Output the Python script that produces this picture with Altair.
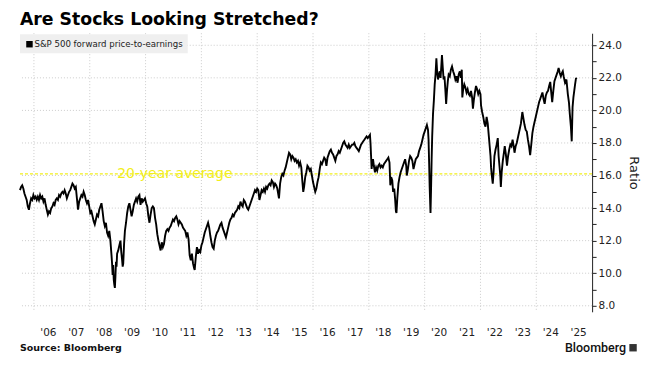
import altair as alt
import pandas as pd

# ---- data (decimal year, forward P/E) ----
years = [
2005.50,2005.54,2005.58,2005.62,2005.66,2005.70,2005.74,2005.78,2005.82,2005.86,2005.90,2005.94,2005.98,
2006.02,2006.06,2006.10,2006.14,2006.18,2006.22,2006.26,2006.30,2006.34,2006.38,2006.42,2006.46,2006.50,
2006.54,2006.58,2006.62,2006.66,2006.70,2006.74,2006.78,2006.82,2006.86,2006.90,2006.94,2006.98,
2007.02,2007.06,2007.10,2007.14,2007.18,2007.22,2007.26,2007.30,2007.34,2007.38,2007.42,2007.46,2007.50,
2007.54,2007.58,2007.62,2007.66,2007.70,2007.74,2007.78,2007.82,2007.86,2007.90,2007.94,2007.98,
2008.02,2008.06,2008.10,2008.14,2008.18,2008.22,2008.26,2008.30,2008.34,2008.38,2008.42,2008.46,2008.50,
2008.54,2008.58,2008.62,2008.66,2008.70,2008.74,2008.78,2008.80,2008.82,2008.84,2008.86,2008.88,2008.90,
2008.92,2008.94,2008.96,2008.98,
2009.02,2009.06,2009.10,2009.13,2009.16,2009.18,2009.20,2009.23,2009.26,2009.30,2009.34,2009.38,2009.42,
2009.46,2009.50,2009.54,2009.58,2009.62,2009.66,2009.70,2009.74,2009.78,2009.82,2009.86,2009.90,2009.94,2009.98,
2010.02,2010.06,2010.10,2010.14,2010.18,2010.22,2010.26,2010.30,2010.34,2010.38,2010.42,2010.46,2010.50,
2010.54,2010.58,2010.62,2010.66,2010.70,2010.74,2010.78,2010.82,2010.86,2010.90,2010.94,2010.98,
2011.02,2011.06,2011.10,2011.14,2011.18,2011.22,2011.26,2011.30,2011.34,2011.38,2011.42,2011.46,2011.50,
2011.54,2011.58,2011.62,2011.66,2011.70,2011.74,2011.76,2011.80,2011.84,2011.88,2011.92,2011.96,
2012.00,2012.04,2012.08,2012.12,2012.16,2012.20,2012.24,2012.28,2012.32,2012.36,2012.40,2012.44,2012.48,
2012.52,2012.56,2012.60,2012.64,2012.68,2012.72,2012.76,2012.80,2012.84,2012.88,2012.92,2012.96,
2013.00,2013.04,2013.08,2013.12,2013.16,2013.20,2013.24,2013.28,2013.32,2013.36,2013.40,2013.44,2013.48,
2013.52,2013.56,2013.60,2013.64,2013.68,2013.72,2013.76,2013.80,2013.84,2013.88,2013.92,2013.96,
2014.00,2014.04,2014.08,2014.12,2014.16,2014.20,2014.24,2014.28,2014.32,2014.36,2014.40,2014.44,2014.48,
2014.52,2014.56,2014.60,2014.64,2014.68,2014.72,2014.76,2014.78,2014.82,2014.86,2014.90,2014.94,2014.98,
2015.02,2015.06,2015.10,2015.14,2015.18,2015.22,2015.26,2015.30,2015.34,2015.38,2015.42,2015.46,2015.50,
2015.54,2015.58,2015.62,2015.65,2015.68,2015.72,2015.76,2015.80,2015.84,2015.88,2015.92,2015.96,
2016.00,2016.04,2016.08,2016.12,2016.16,2016.20,2016.24,2016.28,2016.32,2016.36,2016.40,2016.44,2016.48,
2016.52,2016.56,2016.60,2016.64,2016.68,2016.72,2016.76,2016.80,2016.84,2016.88,2016.92,2016.96,
2017.00,2017.04,2017.08,2017.12,2017.16,2017.20,2017.24,2017.28,2017.32,2017.36,2017.40,2017.44,2017.48,
2017.52,2017.56,2017.60,2017.64,2017.68,2017.72,2017.76,2017.80,2017.84,2017.88,2017.92,2017.96,
2018.00,2018.04,2018.06,2018.08,2018.10,2018.12,2018.15,2018.18,2018.22,2018.26,2018.30,2018.34,2018.38,
2018.42,2018.46,2018.50,2018.54,2018.58,2018.62,2018.66,2018.70,2018.74,2018.77,2018.80,2018.84,2018.87,
2018.91,2018.94,2018.97,2018.99,
2019.02,2019.06,2019.10,2019.14,2019.18,2019.22,2019.26,2019.30,2019.34,2019.36,2019.40,2019.44,2019.48,
2019.52,2019.56,2019.60,2019.64,2019.68,2019.72,2019.76,2019.80,2019.84,2019.88,2019.92,2019.96,
2020.00,2020.04,2020.08,2020.12,2020.14,2020.16,2020.18,2020.20,2020.21,2020.23,2020.25,2020.27,2020.30,
2020.33,2020.36,2020.39,2020.42,2020.45,2020.48,2020.51,2020.54,2020.57,2020.60,2020.62,2020.65,2020.68,
2020.71,2020.74,2020.77,2020.80,2020.83,2020.86,2020.90,2020.94,2020.98,
2021.02,2021.06,2021.10,2021.14,2021.18,2021.22,2021.26,2021.30,2021.33,2021.35,2021.38,2021.42,2021.46,
2021.50,2021.54,2021.58,2021.62,2021.66,2021.70,2021.73,2021.76,2021.80,2021.84,2021.88,2021.92,2021.96,
2022.00,2022.02,2022.06,2022.10,2022.14,2022.18,2022.22,2022.26,2022.30,2022.33,2022.36,2022.38,2022.40,
2022.44,2022.47,2022.50,2022.54,2022.58,2022.62,2022.65,2022.68,2022.71,2022.73,2022.76,2022.80,2022.84,
2022.87,2022.91,2022.95,2022.99,
2023.03,2023.07,2023.11,2023.15,2023.19,2023.22,2023.26,2023.30,2023.35,2023.40,2023.45,2023.50,2023.54,
2023.58,2023.62,2023.66,2023.70,2023.74,2023.78,2023.82,2023.86,2023.90,2023.94,2023.98,
2024.02,2024.06,2024.10,2024.14,2024.18,2024.22,2024.26,2024.30,2024.34,2024.38,2024.42,2024.46,2024.50,
2024.53,2024.57,2024.61,2024.65,2024.69,2024.73,2024.77,2024.80,2024.84,2024.88,2024.92,2024.95,2024.98,
2025.03,2025.08,2025.13,2025.17,2025.20,2025.24,2025.27,2025.30,2025.33,2025.36,2025.39,2025.42,2025.45,
]

pe = [
15.1,15.3,15.4,15.2,14.9,14.7,14.5,14.1,13.9,14.3,14.6,14.5,14.8,
14.6,14.7,14.5,14.7,14.5,14.8,14.6,14.7,14.4,14.6,14.2,13.9,13.6,
13.8,13.7,14.0,14.1,14.3,14.2,14.5,14.6,14.5,14.8,14.7,14.9,
15.0,14.9,15.1,14.9,14.6,14.8,15.0,15.1,15.3,15.5,15.4,15.2,15.3,
14.6,13.9,14.4,14.6,14.8,14.7,15.0,14.8,14.5,14.3,14.5,14.1,
13.7,13.8,13.5,13.2,13.0,13.3,13.6,13.5,13.9,14.1,14.3,13.8,13.2,
12.9,13.1,12.5,12.3,12.6,12.0,11.1,10.6,9.9,10.5,9.6,9.3,9.1,
9.8,10.7,10.4,11.2,
11.4,11.7,12.0,11.3,10.8,10.4,10.6,11.8,12.6,13.1,13.7,14.1,14.3,
13.9,13.5,13.8,14.2,14.4,14.6,14.4,14.7,14.8,14.2,14.6,14.4,14.5,14.6,
14.3,14.1,13.5,13.1,13.6,14.0,14.1,14.0,13.4,13.0,12.4,12.0,11.7,
11.4,11.9,11.6,11.8,12.3,12.6,12.7,12.6,12.8,12.9,13.1,13.3,
13.2,13.4,13.5,13.3,13.0,13.2,13.1,13.0,12.8,12.7,12.6,12.3,12.5,
12.1,11.1,10.8,11.2,10.6,10.3,10.2,11.0,11.6,11.2,11.4,11.3,
11.7,11.9,12.2,12.5,12.7,12.9,13.1,12.8,12.3,11.9,11.6,11.5,12.0,
12.3,12.5,12.6,12.8,13.0,13.1,12.8,12.6,12.4,12.2,12.5,12.8,
13.1,13.3,13.4,13.6,13.5,13.7,13.8,13.9,14.1,14.0,14.4,14.2,14.1,
14.5,14.4,14.2,14.0,13.9,14.1,14.3,14.5,14.7,14.9,15.1,15.0,
15.2,15.1,14.5,14.8,15.1,15.0,15.2,15.0,15.3,15.2,15.4,15.5,15.4,
15.7,15.6,15.3,15.5,15.4,15.2,14.8,14.6,15.5,15.9,16.1,16.0,16.3,
16.5,16.8,17.1,17.4,17.3,17.0,17.2,17.1,16.9,17.0,16.8,16.9,16.6,
16.8,16.5,15.6,15.0,15.3,15.9,16.2,16.6,16.5,16.3,16.4,16.0,
15.6,15.3,15.0,15.2,15.6,15.9,16.4,16.8,16.7,16.9,17.1,17.0,16.6,
17.1,17.3,17.5,17.6,17.4,17.3,17.1,16.9,17.2,17.3,17.5,17.4,
17.6,17.8,18.0,18.1,17.9,17.8,17.7,17.9,17.7,17.8,17.9,17.9,18.0,
17.8,17.7,17.6,17.5,17.7,17.9,18.0,18.1,18.2,18.3,18.4,18.3,
18.4,18.5,18.0,17.2,16.4,16.8,17.0,16.6,16.2,16.5,16.3,16.6,16.7,
16.5,16.6,16.5,16.7,16.8,16.9,17.0,17.1,16.8,15.4,15.9,15.7,15.0,
15.2,14.6,13.8,13.7,
14.6,15.5,15.9,16.2,16.4,16.6,16.8,17.0,16.6,16.0,16.4,16.9,17.2,
17.1,16.9,16.4,16.7,17.0,17.1,17.2,17.5,17.7,17.9,18.2,18.5,
18.7,18.9,19.1,18.8,18.2,16.8,15.3,14.2,13.7,15.2,17.0,18.4,19.8,
20.6,21.6,22.2,23.2,22.3,21.9,22.2,22.4,22.0,22.8,23.4,22.6,21.9,
22.1,21.3,20.4,21.2,21.8,22.2,22.1,22.5,22.7,
22.4,22.2,21.9,22.1,21.7,22.2,22.4,22.0,22.5,20.8,21.3,21.6,21.4,
21.1,21.3,21.0,20.9,21.2,20.8,20.1,20.6,21.1,21.5,21.3,21.0,21.2,
21.0,20.3,19.9,19.6,19.2,19.0,19.6,19.2,18.4,17.8,17.2,16.5,16.1,
15.5,16.2,17.2,17.6,17.9,18.3,17.2,16.6,16.0,15.3,16.2,16.9,17.4,
17.8,17.3,16.6,17.2,
17.6,17.9,17.8,18.2,17.8,17.4,17.8,18.0,18.4,18.8,19.2,19.9,19.5,
19.1,18.8,18.7,18.2,17.8,17.25,17.9,18.6,19.0,19.3,19.6,
19.9,20.2,20.5,20.7,20.9,21.1,20.7,20.4,20.9,21.1,21.2,21.5,21.75,
21.2,20.5,21.2,21.8,22.0,22.2,22.4,22.6,22.3,22.1,22.3,22.4,22.1,
21.7,21.9,21.0,20.5,19.8,19.0,18.1,20.2,20.8,21.2,21.6,21.95,22.0,
]

avg_value = [16.1]
avg_label = ["20-year average"]
avg_label_year = [2011.05]
series_name = ["S&P 500 forward price-to-earnings"]
title_text = ["Are Stocks Looking Stretched?"]
source_text = ["Source: Bloomberg"]
brand_text = ["Bloomberg"]

x_label_values = [y + 0.5 for y in range(2006, 2026)]     # one label per year, centred
x_grid_years = list(range(2006, 2026, 2))                 # dotted verticals every 2 years
y_tick_values = list(range(8, 25))                        # ticks every 1.0
y_grid_values = list(range(8, 25, 2))                     # labels + grid every 2.0

df = pd.DataFrame({"year": years, "pe": pe})
avg_df = pd.DataFrame({"avg": avg_value, "label": avg_label, "year": avg_label_year})
xgrid_df = pd.DataFrame({"year": x_grid_years})
ygrid_df = pd.DataFrame({"v": y_grid_values})

W, H = 573, 279
X_DOMAIN = [2005.5, 2026.0]
Y_DOMAIN = [7.63, 24.74]
FONT = "DejaVu Sans"
YELLOW = "#f2ee1a"
GRID = "#cccccc"

x_scale = alt.Scale(domain=X_DOMAIN, nice=False, zero=False)
y_scale = alt.Scale(domain=Y_DOMAIN, nice=False, zero=False)

x_axis = alt.Axis(
    values=x_label_values,
    title=None,
    labelExpr="\"'\" + substring(toString(floor(datum.value)), 2, 4)",
    grid=False,
    ticks=False,
    tickSize=0,
    domain=False,
    labelFont=FONT,
    labelFontSize=10.5,
    labelColor="#222222",
    labelPadding=16,
    labelOverlap=False,
    labelFlush=False,
    labelBound=False,
)

y_axis = alt.Axis(
    orient="right",
    values=y_tick_values,
    title="Ratio",
    titleFont=FONT,
    titleFontSize=13,
    titleFontWeight="normal",
    titleColor="#222222",
    titlePadding=5,
    labelExpr="datum.value % 2 == 0 ? format(datum.value, '.1f') : ''",
    grid=False,
    domainColor="#222222",
    tickColor="#222222",
    tickSize=4,
    labelPadding=2,
    labelFont=FONT,
    labelFontSize=10.5,
    labelColor="#222222",
    labelOverlap=False,
    labelFlush=False,
    labelBound=False,
)

X = lambda field: alt.X(field, scale=x_scale, axis=x_axis)
Y = lambda field: alt.Y(field, scale=y_scale, axis=y_axis)

xgrid = alt.Chart(xgrid_df).mark_rule(color=GRID, strokeDash=[1, 2], strokeWidth=1).encode(
    x=X("year:Q")
)
ygrid = alt.Chart(ygrid_df).mark_rule(color=GRID, strokeDash=[1, 2], strokeWidth=1).encode(
    y=Y("v:Q")
)

avg_rule = alt.Chart(avg_df).mark_rule(
    color=YELLOW, strokeDash=[3, 2], strokeWidth=1.3
).encode(y=Y("avg:Q"))

line = alt.Chart(df).mark_line(color="black", strokeWidth=1.9, strokeJoin="miter").encode(
    x=X("year:Q"),
    y=Y("pe:Q"),
)

avg_text = alt.Chart(avg_df).mark_text(
    color=YELLOW, font=FONT, fontSize=14, align="center", baseline="middle"
).encode(
    x=X("year:Q"),
    y=Y("avg:Q"),
    text="label:N",
)

legend_box = alt.Chart(pd.DataFrame({"name": series_name})).mark_rect(
    color="#efefef"
).encode(x=alt.value(0), x2=alt.value(168), y=alt.value(1), y2=alt.value(20))

legend_sym = alt.Chart(pd.DataFrame({"name": series_name})).mark_square(
    color="black", size=42, opacity=1
).encode(x=alt.value(9.5), y=alt.value(11))

legend_txt = alt.Chart(pd.DataFrame({"name": series_name})).mark_text(
    font=FONT, fontSize=8.6, color="#222222", align="left", baseline="middle"
).encode(x=alt.value(14.5), y=alt.value(11), text="name:N")

title = alt.Chart(pd.DataFrame({"t": title_text})).mark_text(
    font=FONT, fontSize=17.3, fontWeight="bold", color="black", align="left", baseline="alphabetic"
).encode(x=alt.value(0), y=alt.value(-8), text="t:N")

source = alt.Chart(pd.DataFrame({"t": source_text})).mark_text(
    font=FONT, fontSize=9.5, fontWeight="bold", color="#111111", align="left", baseline="middle"
).encode(x=alt.value(0), y=alt.value(315), text="t:N")

brand = alt.Chart(pd.DataFrame({"t": brand_text})).mark_text(
    font="Roboto", fontSize=12.5, fontWeight=500, color="#111111", align="right", baseline="middle"
).encode(x=alt.value(607), y=alt.value(315), text="t:N")

brand_logo = alt.Chart(pd.DataFrame({"t": brand_text})).mark_square(
    color="#333333", size=55, opacity=1
).encode(x=alt.value(614), y=alt.value(315))

chart = alt.layer(
    xgrid, ygrid, avg_rule, line, avg_text, legend_box, legend_sym, legend_txt,
    title, source, brand, brand_logo
).properties(
    width=W,
    height=H,
    background="white",
    autosize=alt.AutoSizeParams(type="none"),
    padding={"left": 12, "top": 25, "right": 70, "bottom": 45},
).configure_view(stroke=None)

chart.save("out.html", embed_options={"renderer": "svg", "actions": False})
